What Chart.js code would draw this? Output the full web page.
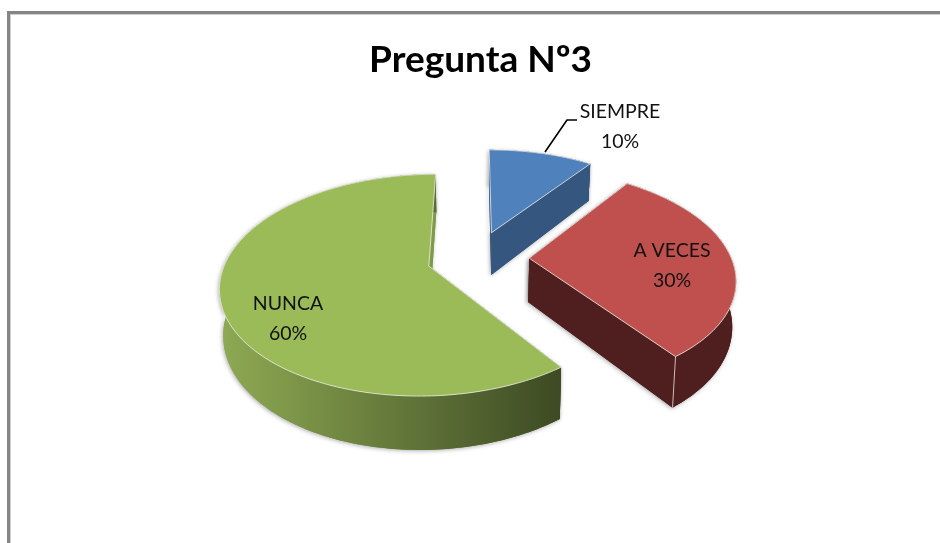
<!DOCTYPE html>
<html><head><meta charset="utf-8">
<style>
html,body{margin:0;padding:0;background:#fff;width:940px;height:543px;overflow:hidden}
#frame{position:absolute;left:7px;top:11px;width:933px;height:532px;box-sizing:border-box;border-top:3px solid #858585;border-left:3px solid #858585;box-shadow:inset 1px 1px 0 #d0d0d0}
#c{position:absolute;left:0;top:0;filter:blur(.45px)}
</style>
<script src="https://cdn.jsdelivr.net/npm/chart.js@4/dist/chart.umd.min.js"></script>
</head><body>
<div id="frame"></div>
<canvas id="c" width="940" height="543"></canvas>
<script>
const categories = ['SIEMPRE', 'A VECES', 'NUNCA'];
const percentValues = [10, 30, 60];
const percentLabels = ['10%', '30%', '60%'];
const chartTitle = 'Pregunta Nº3';
const sliceExplode = [41, 41, 37];
const topColors = ['#4F81BD', '#C0504D', '#9BBB59'];
const wallColors = ['#34567F', '#4E1F1E', '#3F4C24'];

// projection of the flat pie plane on to the page
const SHIFT_X = -5, SHIFT_Y = -3, SCALE_X = 1.31, SCALE_Y = 0.68, PERSP = 0.17, DEPTH = 44, CONVERGE = 0.015;
const labelSpots = [[620, 112], [672, 251], [288, 304]];

function project(el, off, mid, a) {
  const R = el.outerRadius;
  const u = Math.cos(a) + (off / R) * Math.cos(mid);
  const v = Math.sin(a) + (off / R) * Math.sin(mid);
  return projectUV(el, u, v);
}
function projectUV(el, u, v) {
  const w = 1 - PERSP * v;
  return {x: el.x + SHIFT_X + SCALE_X * el.outerRadius * u / w,
          y: el.y + SHIFT_Y + SCALE_Y * el.outerRadius * v / w,
          d: DEPTH / w, cx: el.x + SHIFT_X};
}
function arcPoints(el, off, mid) {
  const n = Math.max(8, Math.ceil((el.endAngle - el.startAngle) / 0.02)), pts = [];
  for (let i = 0; i <= n; i++) pts.push(project(el, off, mid, el.startAngle + (el.endAngle - el.startAngle) * i / n));
  return pts;
}
function poly(ctx, pts) {
  ctx.beginPath();
  pts.forEach((p, i) => i ? ctx.lineTo(p.x, p.y) : ctx.moveTo(p.x, p.y));
  ctx.closePath();
}
const down = p => ({x: p.x - (p.x - p.cx) * CONVERGE, y: p.y + p.d});

function drawWalls(ctx, i, pts, apex) {
  const first = pts[0], last = pts[pts.length - 1];
  ctx.fillStyle = wallColors[i];
  poly(ctx, [apex, first, down(first), down(apex)]); ctx.fill();
  if (i === 2) ctx.fillStyle = '#7F9A49';
  poly(ctx, [apex, last, down(last), down(apex)]); ctx.fill();
  if (i === 2) {
    const xs = pts.map(p => p.x);
    const gg = ctx.createLinearGradient(Math.min(...xs), 0, first.x, 0);
    gg.addColorStop(0, '#8EAA53'); gg.addColorStop(1, '#3D4A23');
    ctx.fillStyle = gg;
  } else ctx.fillStyle = wallColors[i];
  poly(ctx, pts.concat(pts.slice().reverse().map(down))); ctx.fill();
}

const pie3d = {
  id: 'pie3d',
  beforeDatasetsDraw(chart) {
    const ctx = chart.ctx, meta = chart.getDatasetMeta(0);
    // paint far to near: blue, green, red
    [0, 2, 1].forEach(i => {
      const el = meta.data[i], off = el.options.offset;
      const mid = (el.startAngle + el.endAngle) / 2;
      const pts = arcPoints(el, off, mid);
      const apex = projectUV(el, off / el.outerRadius * Math.cos(mid), off / el.outerRadius * Math.sin(mid));
      // soft shadow pass, then the clean walls
      ctx.save();
      ctx.shadowColor = 'rgba(0,0,0,.32)';
      ctx.shadowBlur = 4;
      ctx.shadowOffsetX = -1;
      ctx.shadowOffsetY = 1;
      drawWalls(ctx, i, pts, apex);
      ctx.restore();
      drawWalls(ctx, i, pts, apex);
      // seam at the front corner of the slice
      if (i === 1) {
        const s = pts[pts.length - 1], b = down(s);
        ctx.strokeStyle = 'rgba(225,215,210,.85)'; ctx.lineWidth = 1;
        ctx.beginPath(); ctx.moveTo(s.x, s.y); ctx.lineTo(b.x, b.y); ctx.stroke();
      }
      // top face
      poly(ctx, [apex].concat(pts));
      ctx.fillStyle = el.options.backgroundColor; ctx.fill();
      ctx.strokeStyle = 'rgba(235,235,228,.8)'; ctx.lineWidth = 1; ctx.lineJoin = 'round'; ctx.stroke();
    });
    return false;
  },
  afterDraw(chart) {
    const ctx = chart.ctx;
    ctx.save();
    // leader line of the first label
    ctx.strokeStyle = '#000'; ctx.lineWidth = 1.6;
    ctx.beginPath(); ctx.moveTo(545, 152); ctx.lineTo(567, 120); ctx.lineTo(577, 120); ctx.stroke();
    ctx.fillStyle = '#111'; ctx.textAlign = 'center'; ctx.textBaseline = 'middle';
    ctx.font = '19.5px Lato';
    categories.forEach((c, i) => {
      const [x, y] = labelSpots[i];
      ctx.fillText(c, x, y);
      ctx.fillText(percentLabels[i], x, y + 30);
    });
    ctx.restore();
  }
};

new Chart(document.getElementById('c'), {
  type: 'pie',
  data: {labels: categories, datasets: [{data: percentValues, backgroundColor: topColors, borderWidth: 0, offset: sliceExplode}]},
  options: {
    responsive: false, animation: false,
    layout: {padding: {left: 21, right: 0, top: 0, bottom: 107}},
    plugins: {
      legend: {display: false}, tooltip: {enabled: false},
      title: {display: true, text: chartTitle, color: '#000', font: {family: 'Lato', size: 37, weight: 'bold'}, padding: {top: 38, bottom: 4}}
    }
  },
  plugins: [pie3d]
});
</script>
</body></html>
